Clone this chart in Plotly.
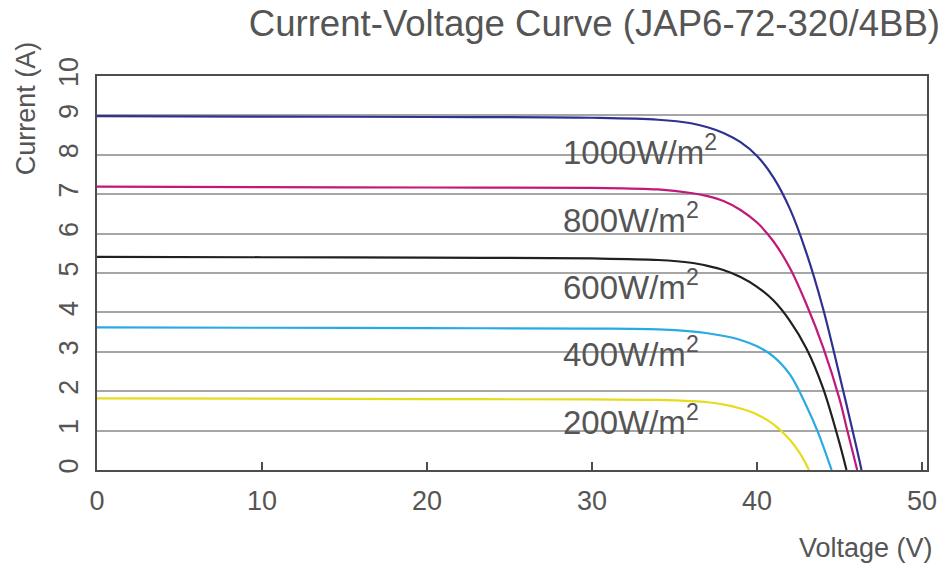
import plotly.graph_objects as go

# ---- data ----
v_1000 = [0, 10, 20, 30, 34, 36, 37, 38, 39, 40, 41, 42, 43, 44, 45, 46, 46.33]
i_1000 = [8.98, 8.97, 8.96, 8.94, 8.89, 8.80, 8.70, 8.55, 8.32, 7.97, 7.42, 6.62, 5.5, 4.1, 2.4, 0.62, 0]

v_800 = [0, 10, 20, 30, 34, 36, 37, 38, 39, 40, 41, 42, 43, 44, 45, 45.5, 46.07]
i_800 = [7.19, 7.18, 7.17, 7.16, 7.12, 7.03, 6.95, 6.82, 6.6, 6.28, 5.8, 5.12, 4.2, 3.12, 1.8, 0.95, 0]

v_600 = [0, 10, 20, 30, 34, 36, 37, 38, 39, 40, 41, 42, 43, 44, 45, 45.42]
i_600 = [5.41, 5.40, 5.39, 5.37, 5.33, 5.26, 5.18, 5.07, 4.9, 4.65, 4.3, 3.78, 3.08, 2.08, 0.68, 0]

v_400 = [0, 10, 20, 30, 34, 36, 37, 38, 39, 40, 41, 42, 43, 43.7, 44.52]
i_400 = [3.62, 3.61, 3.60, 3.59, 3.57, 3.52, 3.47, 3.40, 3.30, 3.14, 2.88, 2.42, 1.62, 0.95, 0]

v_200 = [0, 10, 20, 30, 34, 36, 37, 38, 39, 40, 41, 42, 42.6, 43.15]
i_200 = [1.82, 1.81, 1.80, 1.79, 1.78, 1.75, 1.72, 1.66, 1.56, 1.41, 1.16, 0.76, 0.42, 0]

series_names = ["1000W/m<sup>2</sup>", "800W/m<sup>2</sup>", "600W/m<sup>2</sup>",
                "400W/m<sup>2</sup>", "200W/m<sup>2</sup>"]
series_v = [v_1000, v_800, v_600, v_400, v_200]
series_i = [i_1000, i_800, i_600, i_400, i_200]
series_colors = ["#2e3192", "#c0197a", "#231f20", "#29abe2", "#e6dc1e"]

label_v = 28.1
label_i = [8.11, 6.39, 4.69, 2.99, 1.27]

x_ticks = [0, 10, 20, 30, 40, 50]
y_ticks = [0, 1, 2, 3, 4, 5, 6, 7, 8, 9, 10]

FONT = "Liberation Sans, Arial, Helvetica, sans-serif"
TXT = "#555555"

fig = go.Figure()
for name, v, i, c in zip(series_names, series_v, series_i, series_colors):
    fig.add_trace(go.Scatter(x=v, y=i, mode="lines", name=name,
                             line=dict(color=c, width=2.2, shape="spline", smoothing=1.0),
                             showlegend=False, hoverinfo="skip"))

for name, yv in zip(series_names, label_i):
    fig.add_annotation(x=label_v, y=yv, xref="x", yref="y", text=name,
                       showarrow=False, xanchor="left", yanchor="middle",
                       font=dict(family=FONT, size=33, color=TXT))

fig.add_annotation(text="Current (A)", textangle=-90, xref="paper", yref="paper",
                   x=-0.086, y=1.092, xanchor="center", yanchor="top", showarrow=False,
                   font=dict(family=FONT, size=27, color=TXT))
fig.add_annotation(text="Voltage (V)", xref="paper", yref="paper",
                   x=1.01, y=-0.198, xanchor="right", yanchor="middle", showarrow=False,
                   font=dict(family=FONT, size=27, color=TXT))

fig.update_layout(
    width=949, height=567,
    margin=dict(l=97, r=17, t=76, b=97),
    paper_bgcolor="white", plot_bgcolor="white",
    title=dict(text="Current-Voltage Curve (JAP6-72-320/4BB)", xref="container", yref="container",
               x=940 / 949, xanchor="right", y=1 - 23 / 567, yanchor="middle",
               font=dict(family=FONT, size=36.6, color=TXT)),
    font=dict(family=FONT, color=TXT),
)

fig.update_xaxes(range=[0, 50.3], tickvals=x_ticks, ticktext=[str(t) for t in x_ticks],
                 showgrid=False, zeroline=False,
                 showline=True, mirror=True, linecolor="#4d4d4d", linewidth=2,
                 ticks="inside", ticklen=8, tickwidth=2, tickcolor="#4d4d4d",
                 tickfont=dict(family=FONT, size=27, color=TXT), ticklabelstandoff=6)
fig.update_yaxes(range=[0, 10], tickvals=y_ticks, ticktext=[str(t) for t in y_ticks],
                 tickangle=-90, showgrid=True, gridcolor="#a6a6a6", gridwidth=2,
                 zeroline=False, showline=True, mirror=True, linecolor="#4d4d4d", linewidth=2,
                 ticks="", tickfont=dict(family=FONT, size=27, color=TXT), ticklabelstandoff=6)

fig.write_html("out.html", config={"displayModeBar": False, "staticPlot": True},
               post_script="document.body.style.margin='0px';document.body.style.overflow='hidden';")
